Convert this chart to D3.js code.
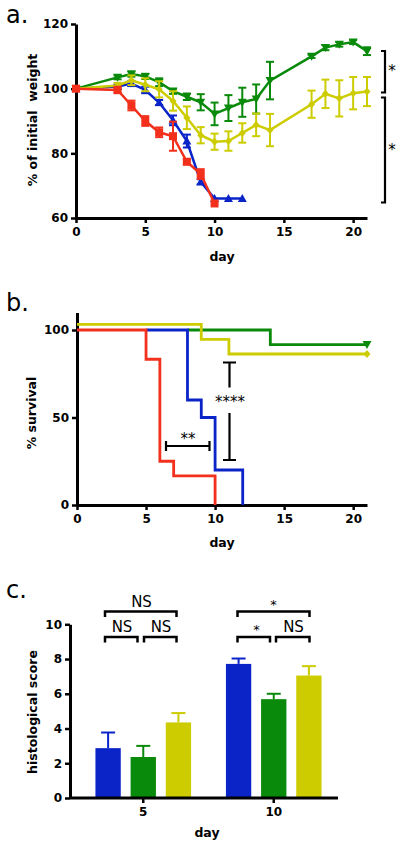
<!DOCTYPE html>
<html><head><meta charset="utf-8">
<script src="https://cdn.jsdelivr.net/npm/d3@7"></script>
<style>
body{margin:0;background:#fff;}
svg{display:block;}
text{font-family:"DejaVu Sans",sans-serif;fill:#000;}
</style></head><body>
<svg id="c" width="403" height="851"></svg>
<script>
// ---------- DATA ----------
const colors = {blue:"#0a24c8", green:"#0a8a0a", yellow:"#cccc00", red:"#f2301c"};
// Panel a: weight (% of initial)
const daysGreen  = [0,3,4,5,6,7,8,9,10,11,12,13,14,17,18,19,20,21];
const weightGreen= [100,103.5,104.5,103.8,102,99.2,97.5,95.8,92.2,94,95.8,96.8,102.5,110,112.7,113.7,114.4,111.6];
const errGreen   = [0,0.6,0.8,0.8,1.2,0.8,1,2.5,3.5,4,4.5,4.5,5.8,0.5,0.8,0.7,0.6,1.2];
const daysYellow = [0,3,4,5,6,7,8,9,10,11,12,13,14,17,18,19,20,21];
const weightYellow=[100,101,102.6,101.2,99.8,96.2,91,85.6,83.6,83.8,86.3,88.8,87.2,95.2,98.4,97,98.6,99.1];
const errYellow  = [0,0.8,1.5,2,2.5,3,3.5,2.5,2.5,3,3,3.5,5,4.2,4.4,5.6,5,4.5];
const daysBlue   = [0,3,4,5,6,7,8,9,10,11,12];
const weightBlue = [100,100.7,101.6,99.6,95.7,90.2,83.8,71.2,66,66,66];
const errBlue    = [0,0.6,0.8,1,0.8,1.5,2,0.8,0,0,0];
const daysRed    = [0,3,4,5,6,7,8,9,10];
const weightRed  = [100,99.6,94.8,90,86.5,85.3,77.4,73.6,64.5];
const errRed     = [0,1,1.5,1.5,1.5,4.5,0.8,1.5,0];
const weightXTicks = [0,5,10,15,20];
const weightYTicks = [60,80,100,120];
// Panel b: survival (step curves: [day, %])
const survRed    = [[0,100],[5,100],[5,83.3],[6,83.3],[6,25],[7,25],[7,16.7],[10,16.7],[10,0]];
const survBlue   = [[5,100],[8,100],[8,60],[9,60],[9,50],[10,50],[10,20],[12,20],[12,0]];
const survGreen  = [[8,100],[14,100],[14,91.7],[21,91.7]];
const survYellow = [[0,103.2],[9,103.2],[9,94.7],[11,94.7],[11,86.3],[21,86.3]];
const survXTicks = [0,5,10,15,20];
const survYTicks = [0,50,100];
// Panel c: histological score
const histDays   = ["5","10"];
const histSeries = ["blue","green","yellow"];
const histMean   = {blue:[2.87,7.72], green:[2.36,5.69], yellow:[4.35,7.05]};
const histErr    = {blue:[0.9,0.31], green:[0.64,0.31], yellow:[0.54,0.54]};
const histYTicks = [0,2,4,6,8,10];

const svg = d3.select("#c");
const AX = 3;

function styleAxis(g){
  g.selectAll("path.domain").attr("stroke","#000").attr("stroke-width",AX);
  g.selectAll(".tick line").attr("stroke","#000").attr("stroke-width",2.5);
  g.selectAll(".tick text").attr("font-family","DejaVu Sans").attr("font-weight","bold").attr("font-size","12px").attr("fill","#000");
}
function panelLabel(t,x,y){
  svg.append("text").attr("x",x).attr("y",y).text(t)
    .attr("font-family","Open Sans").attr("font-size","24px").attr("fill","#000");
}
function axisTitle(t,x,y,rot){
  const el = svg.append("text").text(t).attr("font-weight","bold").attr("font-size","12.5px").attr("text-anchor","middle").attr("fill","#000").style("white-space","pre");
  if(rot) el.attr("transform",`translate(${x},${y}) rotate(-90)`); else el.attr("x",x).attr("y",y);
}
function star(t,x,y,fs){
  svg.append("text").attr("x",x).attr("y",y).text(t).attr("font-family","Liberation Sans").attr("font-size",fs).attr("text-anchor","middle").attr("fill","#000");
}

// ---------- PANEL A ----------
{
  const x = d3.scaleLinear().domain([0,21]).range([76,367]);
  const y = d3.scaleLinear().domain([60,120]).range([218,24]);
  const gx = svg.append("g").attr("transform","translate(0,218)")
    .call(d3.axisBottom(x).tickValues(weightXTicks).tickSize(5).tickSizeOuter(0).tickPadding(4));
  styleAxis(gx);
  const gy = svg.append("g").attr("transform","translate(76,0)")
    .call(d3.axisLeft(y).tickValues(weightYTicks).tickSize(5).tickSizeOuter(0).tickPadding(3));
  styleAxis(gy);
  axisTitle("day",222,261,false);
  axisTitle("% of initial  weight",37,120,true);

  const sets = [
    {d:daysGreen,v:weightGreen,e:errGreen,c:colors.green,m:"down"},
    {d:daysBlue,v:weightBlue,e:errBlue,c:colors.blue,m:"up"},
    {d:daysYellow,v:weightYellow,e:errYellow,c:colors.yellow,m:"diamond"},
    {d:daysRed,v:weightRed,e:errRed,c:colors.red,m:"square"}
  ];
  const line = d3.line().x(p=>x(p[0])).y(p=>y(p[1]));
  sets.forEach(s=>{
    const pts = s.d.map((d,i)=>[d,s.v[i],s.e[i]]);
    const g = svg.append("g");
    g.append("path").attr("d",line(pts)).attr("fill","none").attr("stroke",s.c).attr("stroke-width",2.5);
    pts.filter(p=>p[2]>0).forEach(p=>{
      const xx=x(p[0]), y1=y(p[1]+p[2]), y2=y(p[1]-p[2]);
      g.append("line").attr("x1",xx).attr("x2",xx).attr("y1",y1).attr("y2",y2).attr("stroke",s.c).attr("stroke-width",2);
      [y1,y2].forEach(yy=>g.append("line").attr("x1",xx-4).attr("x2",xx+4).attr("y1",yy).attr("y2",yy).attr("stroke",s.c).attr("stroke-width",2));
    });
    pts.forEach(p=>{
      const xx=x(p[0]), yy=y(p[1]);
      if(s.m==="square") g.append("rect").attr("x",xx-4).attr("y",yy-4).attr("width",8).attr("height",8).attr("fill",s.c);
      else if(s.m==="up") g.append("path").attr("d",`M${xx},${yy-4.5}L${xx+4.5},${yy+3.5}L${xx-4.5},${yy+3.5}Z`).attr("fill",s.c);
      else if(s.m==="down") g.append("path").attr("d",`M${xx},${yy+4.5}L${xx+4.5},${yy-3.5}L${xx-4.5},${yy-3.5}Z`).attr("fill",s.c);
      else g.append("path").attr("d",`M${xx},${yy-4}L${xx+3.5},${yy}L${xx},${yy+4}L${xx-3.5},${yy}Z`).attr("fill",s.c);
    });
  });
  // significance brackets
  const br = (top,bot)=>{
    svg.append("path").attr("d",`M381,${top}H385V${bot}H381`).attr("fill","none").attr("stroke","#000").attr("stroke-width",2.2);
  };
  br(51,92.5); br(97.5,202.5);
  star("*",392,76,"15px");
  star("*",392,155,"15px");
  panelLabel("a.",6,23);
}

// ---------- PANEL B ----------
{
  const x = d3.scaleLinear().domain([0,21]).range([77,367]);
  const y = d3.scaleLinear().domain([0,110]).range([505,312.5]);
  const gx = svg.append("g").attr("transform","translate(0,505)")
    .call(d3.axisBottom(x).tickValues(survXTicks).tickSize(5).tickSizeOuter(0).tickPadding(4));
  styleAxis(gx);
  const gy = svg.append("g").attr("transform","translate(77,0)")
    .call(d3.axisLeft(y).tickValues(survYTicks).tickSize(5).tickSizeOuter(0).tickPadding(3));
  styleAxis(gy);
  axisTitle("day",222,547,false);
  axisTitle("% survival",36,413,true);
  const line = d3.line().x(p=>x(p[0])).y(p=>y(p[1]));
  [[survGreen,colors.green],[survBlue,colors.blue],[survRed,colors.red],[survYellow,colors.yellow]].forEach(([d,c])=>{
    svg.append("path").attr("d",line(d)).attr("fill","none").attr("stroke",c).attr("stroke-width",2.8);
  });
  const gEnd = survGreen[survGreen.length-1], yEnd = survYellow[survYellow.length-1];
  let xx=x(gEnd[0]), yy=y(gEnd[1]);
  svg.append("path").attr("d",`M${xx},${yy+4.5}L${xx+4.5},${yy-3.5}L${xx-4.5},${yy-3.5}Z`).attr("fill",colors.green);
  xx=x(yEnd[0]); yy=y(yEnd[1]);
  svg.append("path").attr("d",`M${xx},${yy-4}L${xx+3.5},${yy}L${xx},${yy+4}L${xx-3.5},${yy}Z`).attr("fill",colors.yellow);
  // ** bracket
  const k = svg.append("g").attr("stroke","#000").attr("stroke-width",2.2).attr("fill","none");
  k.append("path").attr("d","M166,441V451M166,446H209.5M209.5,441V451");
  star("**",188,444,"15px");
  // **** bracket
  k.append("path").attr("d","M223,362.5H236M229.5,362.5V387.5M229.5,413V460M223,460H236");
  star("****",230,407,"15px");
  panelLabel("b.",6,311);
}

// ---------- PANEL C ----------
{
  const y = d3.scaleLinear().domain([0,10]).range([798,624.3]);
  const x0 = d3.scaleBand().domain(histDays).range([70,347]).paddingInner(0.267).paddingOuter(0.195);
  const x1 = d3.scaleBand().domain(histSeries).range([0,x0.bandwidth()]).paddingInner(0.28);
  const gy = svg.append("g").attr("transform","translate(70,0)")
    .call(d3.axisLeft(y).tickValues(histYTicks).tickSize(5).tickSizeOuter(0).tickPadding(3));
  styleAxis(gy);
  histDays.forEach((d,di)=>{
    histSeries.forEach(s=>{
      const bx = x0(d)+x1(s), bw = x1.bandwidth(), v = histMean[s][di], e = histErr[s][di];
      svg.append("rect").attr("x",bx).attr("y",y(v)).attr("width",bw).attr("height",y(0)-y(v)).attr("fill",colors[s]);
      const cx = bx+bw/2;
      svg.append("line").attr("x1",cx).attr("x2",cx).attr("y1",y(v)).attr("y2",y(v+e)).attr("stroke",colors[s]).attr("stroke-width",2);
      svg.append("line").attr("x1",cx-7).attr("x2",cx+7).attr("y1",y(v+e)).attr("y2",y(v+e)).attr("stroke",colors[s]).attr("stroke-width",2);
    });
  });
  const gx = svg.append("g").attr("transform","translate(0,798)")
    .call(d3.axisBottom(x0).tickSize(5).tickSizeOuter(0).tickPadding(4));
  styleAxis(gx);
  gx.select("path.domain").attr("d","M70,0H338");
  axisTitle("day",207,837,false);
  axisTitle("histological score",37,712,true);
  const bk = svg.append("g").attr("stroke","#000").attr("stroke-width",2.5).attr("fill","none");
  const brk=(a,b,yy)=>bk.append("path").attr("d",`M${a},${yy+5.5}V${yy}H${b}V${yy+5.5}`);
  const lab=(t,xx,yy,fs)=>svg.append("text").attr("x",xx).attr("y",yy).text(t).attr("font-family","Liberation Sans").attr("font-size",fs).attr("text-anchor","middle").attr("fill","#000");
  brk(105,176.5,611.5); lab("NS",141.5,607,"15px");
  brk(105,137.5,637); lab("NS",122,632,"15px");
  brk(144,176.5,637); lab("NS",161,632,"15px");
  brk(237.5,309.5,611.5); lab("*",273.5,609,"13px");
  brk(237.5,270,637); lab("*",256.5,634,"13px");
  brk(276,309.5,637); lab("NS",293.5,632,"15px");
  panelLabel("c.",6,598);
}
</script></body></html>
